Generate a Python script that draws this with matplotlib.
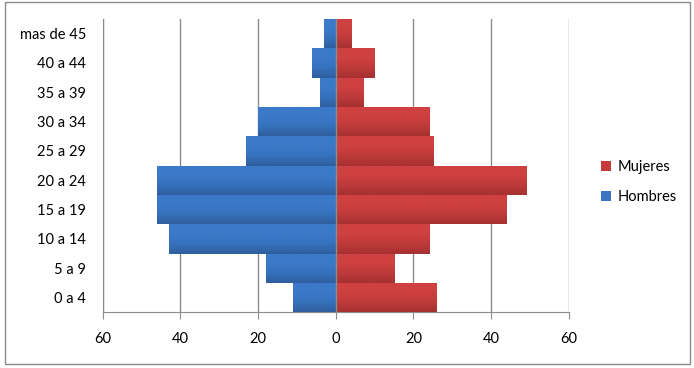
import matplotlib
matplotlib.use("Agg")
import numpy as np
from matplotlib import pyplot as plt
from matplotlib.patches import Rectangle
from matplotlib.colors import LinearSegmentedColormap
from matplotlib.ticker import FuncFormatter

plt.rcParams['font.family'] = ['Lato', 'DejaVu Sans']

# data (from bottom to top)
grupos = ['0 a 4', '5 a 9', '10 a 14', '15 a 19', '20 a 24',
          '25 a 29', '30 a 34', '35 a 39', '40 a 44', 'mas de 45']
hombres = [11, 18, 43, 46, 46, 23, 20, 4, 6, 3]
mujeres = [26, 15, 24, 44, 49, 25, 24, 7, 10, 4]
xticks = [-60, -40, -20, 0, 20, 40, 60]

c_h = '#3a74c2'
c_m = '#c53b3c'
gray = '#8c8c8c'
cm_h = LinearSegmentedColormap.from_list('h', ['#2e5e9e', '#3671bb', '#3b79c9', '#3b79c9'])
cm_m = LinearSegmentedColormap.from_list('m', ['#a53131', '#bf3a3a', '#cf4040', '#cf4040'])

fig = plt.figure(figsize=(6.94, 3.68), dpi=100)
ax = fig.add_axes([102.7/694, 1-312.3/368, 466/694, 293.3/368])

y = np.arange(len(grupos))
bh = ax.barh(y, -np.array(hombres), height=1.0, color=c_h, label='Hombres', zorder=3)
bm = ax.barh(y, mujeres, height=1.0, color=c_m, label='Mujeres', zorder=3)

# vertical gradient on each bar
grad = np.linspace(0, 1, 64).reshape(-1, 1)
for bars, cmap in [(bh, cm_h), (bm, cm_m)]:
    for p in bars:
        x0, y0 = p.get_x(), p.get_y()
        w, h = p.get_width(), p.get_height()
        im = ax.imshow(grad, cmap=cmap, aspect='auto', origin='lower',
                       extent=[x0, x0 + w, y0, y0 + h], zorder=3.5)
        im.set_clip_path(p)

ax.set_xlim(-60, 60)
ax.set_ylim(-0.5, len(grupos) - 0.5)
ax.set_xticks(xticks)
ax.xaxis.set_major_formatter(FuncFormatter(lambda v, p: '%d' % abs(v)))
ax.set_yticks(y)
ax.set_yticklabels(grupos)

ax.grid(axis='x', color=gray, linewidth=1, zorder=0)
ax.axvline(0, color=gray, linewidth=1, zorder=4)
for s in ['top', 'right']:
    ax.spines[s].set_visible(False)
ax.spines['left'].set_color(gray)
ax.spines['bottom'].set_color(gray)
ax.tick_params(axis='x', length=5, color=gray, direction='out', pad=9, labelsize=10.5)
ax.tick_params(axis='y', length=0, pad=12, labelsize=10.5)

h, l = ax.get_legend_handles_labels()
fig.legend(h[::-1], l[::-1], loc='center left', bbox_to_anchor=(588/694, 1-182/368),
           frameon=False, fontsize=10.5, handlelength=0.7, handleheight=0.7,
           handletextpad=0.4, labelspacing=1.1)

fig.add_artist(Rectangle((4.5/694, 4/368), 685/694, 362/368, transform=fig.transFigure,
                         fill=False, edgecolor=gray, linewidth=1))

fig.savefig('out.png', dpi=100)
